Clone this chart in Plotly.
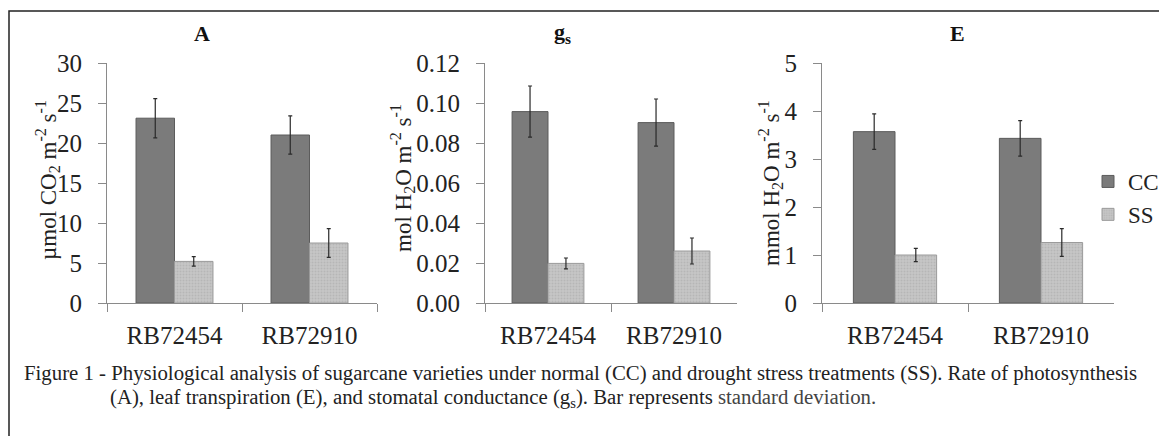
import plotly.graph_objects as go

W, H = 1167, 436
OFF = 8  # page body margin offset

varieties = ["RB72454", "RB72910"]
treatments = ["CC", "SS"]

A_cc = [23.1, 21.0]
A_cc_sd = [2.45, 2.4]
A_ss = [5.2, 7.5]
A_ss_sd = [0.6, 1.8]

gs_cc = [0.0957, 0.0902]
gs_cc_sd = [0.0128, 0.0118]
gs_ss = [0.0198, 0.026]
gs_ss_sd = [0.0027, 0.0065]

E_cc = [3.57, 3.43]
E_cc_sd = [0.37, 0.37]
E_ss = [1.0, 1.26]
E_ss_sd = [0.14, 0.29]

panels = [
    ("A", A_cc, A_cc_sd, A_ss, A_ss_sd, [0, 30], 5, "d"),
    ("g", gs_cc, gs_cc_sd, gs_ss, gs_ss_sd, [0, 0.12], 0.02, ".2f"),
    ("E", E_cc, E_cc_sd, E_ss, E_ss_sd, [0, 5], 1, "d"),
]

FONT = "Liberation Serif"
CC_COLOR = "#7b7b7b"
SS_BG = "#c6c6c6"


def px_x(p):
    return (p - OFF) / W


def px_y(p):
    return 1 - (p - OFF) / H


xdomains = [(107, 377), (485, 737), (822, 1114)]
ydom = [px_y(303), px_y(63)]

fig = go.Figure()

for i, (name, cc, ccsd, ss, sssd, yr, dt, fmt) in enumerate(panels):
    xa = "x" if i == 0 else f"x{i+1}"
    ya = "y" if i == 0 else f"y{i+1}"
    fig.add_trace(go.Bar(
        x=varieties, y=cc, name=treatments[0], xaxis=xa, yaxis=ya,
        marker=dict(color=CC_COLOR, line=dict(color="#5c5c5c", width=1)),
        error_y=dict(type="data", array=ccsd, visible=True, color="#2a2a2a",
                     thickness=1.2, width=2),
        showlegend=(i == 0), legendgroup="CC",
    ))
    fig.add_trace(go.Bar(
        x=varieties, y=ss, name=treatments[1], xaxis=xa, yaxis=ya,
        marker=dict(color=SS_BG, line=dict(color="#9a9a9a", width=1),
                    pattern=dict(shape=".", bgcolor=SS_BG, fgcolor="#a5a5a5",
                                 size=3, solidity=0.35)),
        error_y=dict(type="data", array=sssd, visible=True, color="#2a2a2a",
                     thickness=1.2, width=2),
        showlegend=(i == 0), legendgroup="SS",
    ))
    suffix = "" if i == 0 else str(i + 1)
    fig.update_layout(**{
        f"xaxis{suffix}": dict(
            domain=[px_x(xdomains[i][0]), px_x(xdomains[i][1])],
            anchor=ya, automargin=False,
            showline=True, linecolor="#8a8a8a", linewidth=1,
            ticks="outside", ticklen=8, tickcolor="#8a8a8a", tickson="boundaries",
            tickfont=dict(family=FONT, size=25, color="#222"),
            ticklabelstandoff=10, showgrid=False, zeroline=False, fixedrange=True,
        ),
        f"yaxis{suffix}": dict(
            domain=ydom, anchor=xa, range=yr, dtick=dt, tick0=0, tickformat=fmt,
            automargin=False,
            showline=True, linecolor="#8a8a8a", linewidth=1,
            ticks="outside", ticklen=8, tickcolor="#8a8a8a",
            tickfont=dict(family=FONT, size=25, color="#222"),
            ticklabelstandoff=11, showgrid=False, zeroline=False, fixedrange=True,
        ),
    })

annotations = []
titles = [("<b>A</b>", 202), ("<b>g<sub>s</sub></b>", 562), ("<b>E</b>", 957)]
for t, x in titles:
    annotations.append(dict(text=t, x=px_x(x), y=px_y(33), xref="paper", yref="paper",
                            xanchor="center", yanchor="middle", showarrow=False,
                            font=dict(family=FONT, size=22, color="#111")))

ytitles = [
    ("µmol CO<sub>2</sub> m<sup>-2</sup> s<sup>-1</sup>", 47, 180),
    ("mol H<sub>2</sub>O m<sup>-2</sup> s<sup>-1</sup>", 402, 178),
    ("mmol H<sub>2</sub>O m<sup>-2</sup> s<sup>-1</sup>", 770, 183),
]
for t, x, y in ytitles:
    annotations.append(dict(text=t, x=px_x(x), y=px_y(y), xref="paper", yref="paper",
                            xanchor="center", yanchor="middle", textangle=-90,
                            showarrow=False,
                            font=dict(family=FONT, size=23, color="#222")))

caption1 = ("Figure 1 - Physiological analysis of sugarcane varieties under normal (CC) and "
            "drought stress treatments (SS). Rate of photosynthesis")
caption2 = ("(A), leaf transpiration (E), and stomatal conductance (g<sub>s</sub>). "
            "Bar represents <span style='color:#444'>standard deviation.</span>")
annotations.append(dict(text=caption1, x=px_x(22), y=px_y(373), xref="paper", yref="paper",
                        xanchor="left", yanchor="middle", showarrow=False,
                        font=dict(family=FONT, size=20.8, color="#222")))
annotations.append(dict(text=caption2, x=px_x(108), y=px_y(398), xref="paper", yref="paper",
                        xanchor="left", yanchor="middle", showarrow=False,
                        font=dict(family=FONT, size=20.8, color="#222")))

fig.update_layout(
    width=W, height=H,
    margin=dict(l=0, r=0, t=0, b=0, autoexpand=False),
    paper_bgcolor="white", plot_bgcolor="white",
    barmode="group", bargap=0.43, bargroupgap=0,
    annotations=annotations,
    legend=dict(x=px_x(1088), y=px_y(160), xanchor="left", yanchor="top",
                font=dict(family=FONT, size=23, color="#222"),
                bgcolor="rgba(0,0,0,0)", itemwidth=30, tracegroupgap=0),
    shapes=[dict(type="rect", xref="paper", yref="paper",
                 x0=px_x(9), x1=1.05, y0=-0.1, y1=px_y(11),
                 line=dict(color="#222", width=1.5), fillcolor="rgba(0,0,0,0)")],
)

fig.write_html("out.html")
